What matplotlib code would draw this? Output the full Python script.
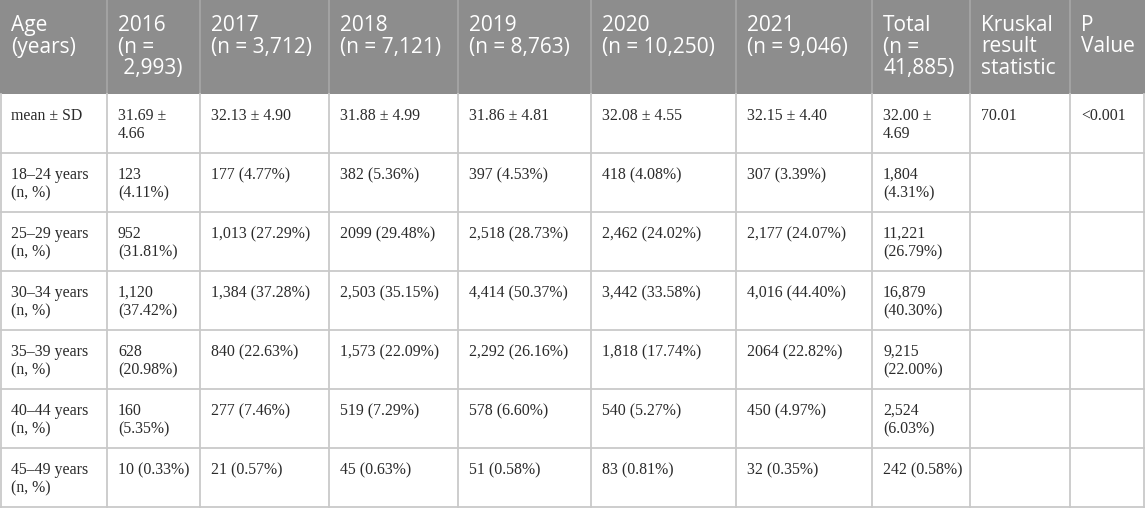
import matplotlib.pyplot as plt
from matplotlib.patches import Rectangle

# header texts
first_col_header = "Age\n(years)"
years = ['2016', '2017', '2018', '2019', '2020', '2021']
year_n = ['(n =\n 2,993)', '(n = 3,712)', '(n = 7,121)', '(n = 8,763)', '(n = 10,250)', '(n = 9,046)']
total_header = "Total\n(n =\n41,885)"
stat_headers = ["Kruskal\nresult\nstatistic", "P\nValue"]

# body rows
row_labels = ["mean ± SD",
              "18–24 years\n(n, %)",
              "25–29 years\n(n, %)",
              "30–34 years\n(n, %)",
              "35–39 years\n(n, %)",
              "40–44 years\n(n, %)",
              "45–49 years\n(n, %)"]
mean_sd = ["31.69 ±\n4.66", "32.13 ± 4.90", "31.88 ± 4.99", "31.86 ± 4.81",
           "32.08 ± 4.55", "32.15 ± 4.40", "32.00 ±\n4.69"]
kruskal_stat = "70.01"
p_value = "<0.001"
ages_18_24 = ["123\n(4.11%)", "177 (4.77%)", "382 (5.36%)", "397 (4.53%)",
              "418 (4.08%)", "307 (3.39%)", "1,804\n(4.31%)"]
ages_25_29 = ["952\n(31.81%)", "1,013 (27.29%)", "2099 (29.48%)", "2,518 (28.73%)",
              "2,462 (24.02%)", "2,177 (24.07%)", "11,221\n(26.79%)"]
ages_30_34 = ["1,120\n(37.42%)", "1,384 (37.28%)", "2,503 (35.15%)", "4,414 (50.37%)",
              "3,442 (33.58%)", "4,016 (44.40%)", "16,879\n(40.30%)"]
ages_35_39 = ["628\n(20.98%)", "840 (22.63%)", "1,573 (22.09%)", "2,292 (26.16%)",
              "1,818 (17.74%)", "2064 (22.82%)", "9,215\n(22.00%)"]
ages_40_44 = ["160\n(5.35%)", "277 (7.46%)", "519 (7.29%)", "578 (6.60%)",
              "540 (5.27%)", "450 (4.97%)", "2,524\n(6.03%)"]
ages_45_49 = ["10 (0.33%)", "21 (0.57%)", "45 (0.63%)", "51 (0.58%)",
              "83 (0.81%)", "32 (0.35%)", "242 (0.58%)"]

HEADER_BG = '#8d8d8d'
HEADER_SEP = '#a9a9a9'
GRID = '#c9c9c9'
BODY_TXT = '#2a2a2a'

W, H = 1145, 508
col_widths = [107, 93, 129, 129, 133, 145, 136, 98, 100, 75]
header_h = 94
row_h = 59
pad = 11

header = [first_col_header] + [y + '\n' + n for y, n in zip(years, year_n)] + [total_header] + stat_headers
body = [[row_labels[0]] + mean_sd + [kruskal_stat, p_value]]
for label, cells in zip(row_labels[1:], [ages_18_24, ages_25_29, ages_30_34,
                                         ages_35_39, ages_40_44, ages_45_49]):
    body.append([label] + cells + ['', ''])

col_x = [0]
for w in col_widths:
    col_x.append(col_x[-1] + w)
row_y = [0, header_h] + [header_h + row_h * (i + 1) for i in range(len(body))]

fig = plt.figure(figsize=(W / 100, H / 100), dpi=100)
ax = fig.add_axes([0, 0, 1, 1])
ax.set_xlim(0, W)
ax.set_ylim(H, 0)
ax.axis('off')

# header band
ax.add_patch(Rectangle((0, 0), W, header_h, facecolor=HEADER_BG, edgecolor='none'))
for x in col_x[1:-1]:
    ax.plot([x, x], [0, header_h], color=HEADER_SEP, lw=1.1)

# body grid
bottom = row_y[-1]
for y in row_y[2:]:
    ax.plot([0, W - 1.2], [y, y], color=GRID, lw=1.3)
for x in col_x[1:-1]:
    ax.plot([x, x], [header_h, bottom], color=GRID, lw=1.3)
ax.plot([0.7, 0.7], [header_h, bottom], color=GRID, lw=1.3)
ax.plot([W - 1.2, W - 1.2], [header_h, bottom], color=GRID, lw=1.3)

# header text
for j, txt in enumerate(header):
    for k, line in enumerate(txt.split('\n')):
        ax.text(col_x[j] + pad, 31 + k * 21.5, line, ha='left', va='baseline',
                color='white', fontsize=15, family='Open Sans')

# body text
for i, row in enumerate(body):
    top = row_y[i + 1]
    for j, txt in enumerate(row):
        for k, line in enumerate(txt.split('\n')):
            ax.text(col_x[j] + pad, top + 26 + k * 18.5, line, ha='left', va='baseline',
                    color=BODY_TXT, fontsize=11.4, family='Liberation Serif')

fig.savefig('out.png', dpi=100)
